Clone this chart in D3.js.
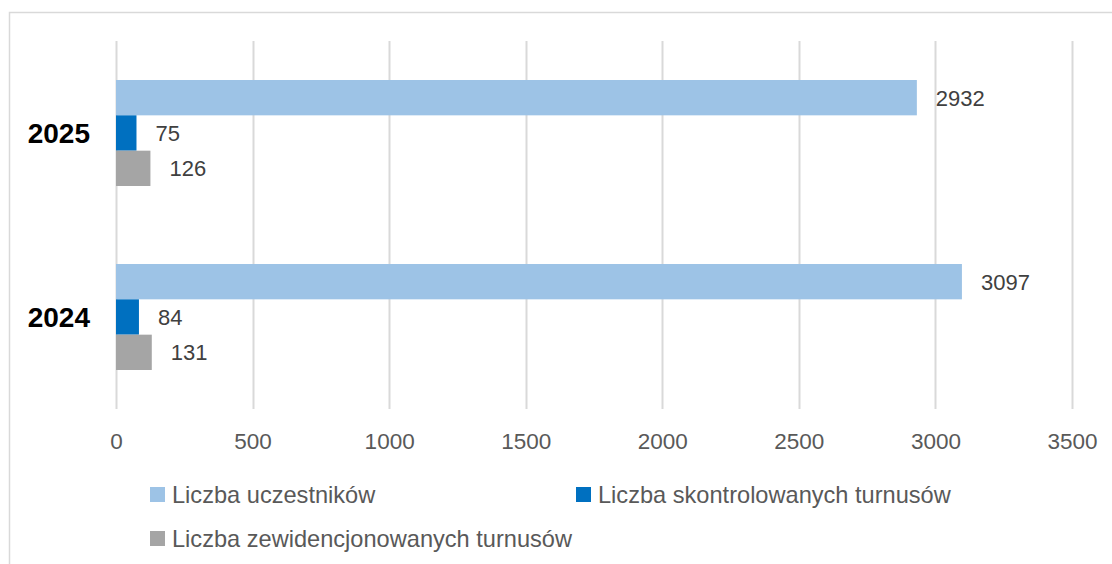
<!DOCTYPE html>
<html>
<head>
<meta charset="utf-8">
<script src="https://cdn.jsdelivr.net/npm/d3@7"></script>
<style>
html,body{margin:0;padding:0;background:#fff;}
svg{display:block;font-family:"Liberation Sans",Arial,sans-serif;}
</style>
</head>
<body>
<svg id="chart" width="1112" height="564"></svg>
<script>
const categories = ["2025", "2024"];
const seriesNames = ["Liczba uczestników", "Liczba skontrolowanych turnusów", "Liczba zewidencjonowanych turnusów"];
const uczestnicy = [2932, 3097];
const skontrolowane = [75, 84];
const zewidencjonowane = [126, 131];
const xTicks = [0, 500, 1000, 1500, 2000, 2500, 3000, 3500];
const colors = ["#9dc3e6", "#0070c0", "#a5a5a5"];

const seriesValues = [uczestnicy, skontrolowane, zewidencjonowane];

const svg = d3.select("#chart");

// outer border
svg.append("rect").attr("x", 9.5).attr("y", 12.5).attr("width", 1200).attr("height", 600)
  .attr("fill", "none").attr("stroke", "#d9d9d9").attr("stroke-width", 1.5);

const x = d3.scaleLinear().domain([0, 3500]).range([116, 1072]);
const y = d3.scaleBand().domain(categories).range([41, 409]).paddingInner(0.424).paddingOuter(0.212);
const ySub = d3.scaleBand().domain(d3.range(seriesNames.length)).range([0, y.bandwidth()]);

// gridlines
svg.append("g").selectAll("line").data(xTicks).join("line")
  .attr("x1", d => Math.round(x(d)) + 0.5).attr("x2", d => Math.round(x(d)) + 0.5)
  .attr("y1", 41).attr("y2", 409)
  .attr("stroke", "#d9d9d9").attr("stroke-width", 2);

// x axis labels
const xAxis = d3.axisBottom(x).tickValues(xTicks).tickFormat(d3.format("d")).tickSize(0).tickPadding(0);
const gx = svg.append("g").attr("transform", "translate(0,449)").call(xAxis);
gx.select(".domain").remove();
gx.selectAll("text").attr("font-size", 22.5).attr("fill", "#595959")
  .attr("font-family", "'Liberation Sans',Arial,sans-serif").attr("dy", "0");

// y axis labels
const yAxis = d3.axisLeft(y).tickSize(0).tickPadding(0);
const gy = svg.append("g").attr("transform", "translate(90,0)").call(yAxis);
gy.select(".domain").remove();
gy.selectAll("text").attr("font-size", 28).attr("font-weight", "bold").attr("fill", "#000")
  .attr("font-family", "'Liberation Sans',Arial,sans-serif").attr("dy", "0.36em");

// bars
const rows = [];
categories.forEach((c, ci) => seriesValues.forEach((vals, si) => rows.push({c, si, v: vals[ci]})));

const gBars = svg.append("g");
gBars.selectAll("rect").data(rows).join("rect")
  .attr("x", x(0))
  .attr("y", d => y(d.c) + ySub(d.si))
  .attr("width", d => x(d.v) - x(0))
  .attr("height", ySub.bandwidth())
  .attr("fill", d => colors[d.si]);

gBars.selectAll("text").data(rows).join("text")
  .attr("x", d => x(d.v) + 19)
  .attr("y", d => y(d.c) + ySub(d.si) + ySub.bandwidth() / 2)
  .attr("dy", "0.36em")
  .attr("font-size", 22).attr("fill", "#404040")
  .text(d => d.v);

// legend
const legendPos = [[150, 503], [576, 503], [150, 547]];
const lg = svg.append("g");
seriesNames.forEach((name, i) => {
  const [lx, ly] = legendPos[i];
  lg.append("rect").attr("x", lx).attr("y", ly - 16).attr("width", 15).attr("height", 15).attr("fill", colors[i]);
  lg.append("text").attr("x", lx + 22).attr("y", ly)
    .attr("font-size", 23.6).attr("fill", "#595959").text(name);
});
</script>
</body>
</html>
